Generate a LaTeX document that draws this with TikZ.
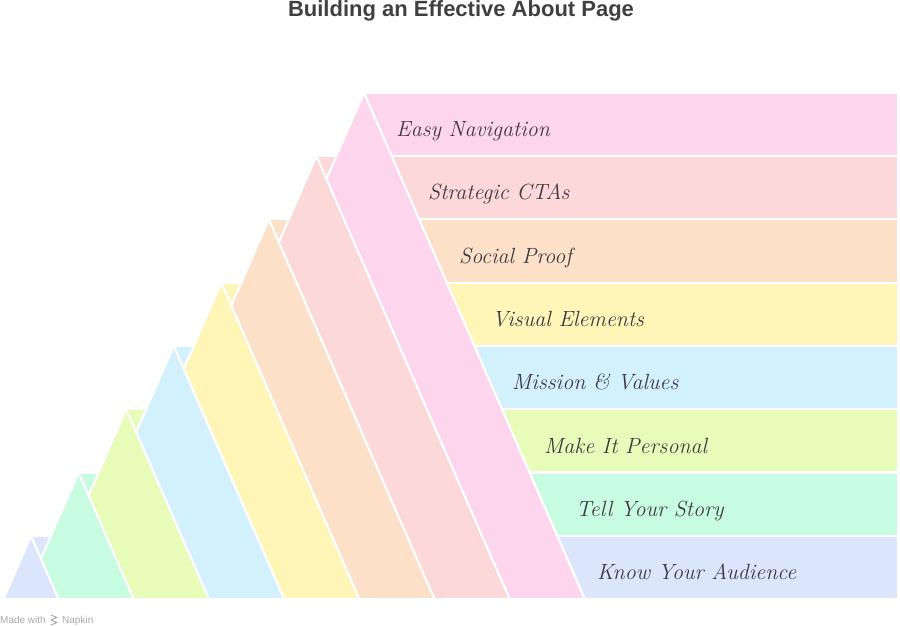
\documentclass[tikz,border=0pt]{standalone}
\usepackage{fontspec}
\newfontfamily\titlefont{Liberation Sans}
\newfontfamily\footfont{Liberation Sans}
\definecolor{cA}{HTML}{DBE6FD}
\definecolor{cB}{HTML}{C7FCE1}
\definecolor{cC}{HTML}{E8FCB9}
\definecolor{cD}{HTML}{D2F1FD}
\definecolor{cE}{HTML}{FEF5B7}
\definecolor{cF}{HTML}{FDE0C8}
\definecolor{cG}{HTML}{FDD8D8}
\definecolor{cH}{HTML}{FDD5EC}
\definecolor{labelgray}{HTML}{3E3944}
\definecolor{titlegray}{HTML}{404040}
\definecolor{footgray}{HTML}{A8A8A8}
\tikzset{
  layerfill/.style={draw=white, line width=2.2pt, line join=round},
  layerlabel/.style={anchor=base west, font=\itshape\fontsize{22}{25}\selectfont, text=labelgray, inner sep=0pt},
}
\begin{document}
\begin{tikzpicture}[x=1pt,y=-1pt]
\useasboundingbox (0,0) rectangle (900,626);
% bars
\foreach \k/\col in {7/cH,6/cG,5/cF,4/cE,3/cD,2/cC,1/cB,0/cA}{
  \pgfmathsetmacro\t{92.7+63.3*(7-\k)}
  \pgfmathsetmacro\a{31+47.57*\k}
  \fill[\col, layerfill] (\a,\t) rectangle (898,{\t+63.3});
}
% triangles, top layer first
\foreach \k/\col in {7/cH,6/cG,5/cF,4/cE,3/cD,2/cC,1/cB,0/cA}{
  \pgfmathsetmacro\t{92.7+63.3*(7-\k)}
  \pgfmathsetmacro\a{31+47.57*\k}
  \pgfmathsetmacro\w{0.436*(599.3-\t)}
  \fill[\col, layerfill] (\a,\t) -- ({\a-\w},599.3) -- ({\a+\w},599.3) -- cycle;
}
% labels
\node[layerlabel] (l7) at (396,136.5) {Easy Navigation};
\node[layerlabel] (l6) at (428,199.8) {Strategic CTAs};
\node[layerlabel] (l5) at (459,263.1) {Social Proof};
\node[layerlabel] (l4) at (492,326.4) {Visual Elements};
\node[layerlabel] (l3) at (512,389.7) {Mission \& Values};
\node[layerlabel] (l2) at (544,453.0) {Make It Personal};
\node[layerlabel] (l1) at (576,516.3) {Tell Your Story};
\node[layerlabel] (l0) at (597,579.6) {Know Your Audience};
% title
\node[font=\titlefont\bfseries\fontsize{22}{25}\selectfont, text=titlegray, inner sep=0pt] (title) at (461,10.5) {Building an Effective About Page};
% footer
\node[anchor=base west, font=\footfont\fontsize{10}{12}\selectfont, text=footgray, inner sep=0pt] (made) at (0,623.5) {Made with};
\node[anchor=base west, font=\footfont\fontsize{10}{12}\selectfont, text=footgray, inner sep=0pt] (napkin) at (62,623.5) {Napkin};
\draw[footgray, line width=0.9pt, line join=round] (51,615) -- (57,617.5) -- (51,620) -- (57,622.5) -- (51,625);
\end{tikzpicture}
\end{document}
